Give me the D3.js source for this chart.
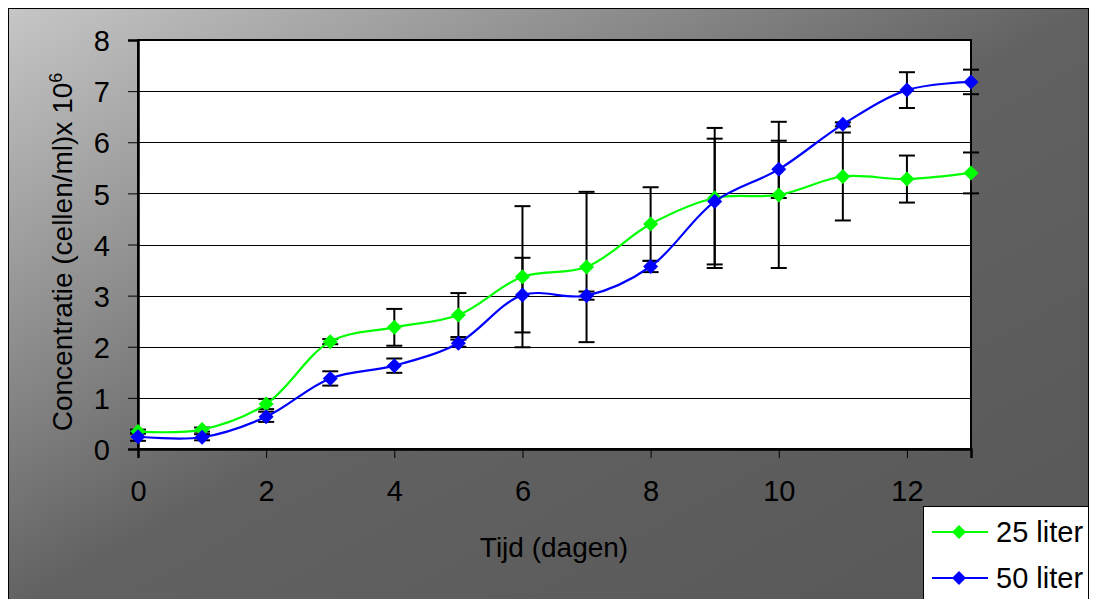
<!DOCTYPE html>
<html>
<head>
<meta charset="utf-8">
<script src="https://cdn.jsdelivr.net/npm/d3@7"></script>
<style>
  body { margin: 0; background: #fff; }
  text { font-family: "Liberation Sans", Arial, sans-serif; fill: #000; }
</style>
</head>
<body>
<script>
// days
var days = [0, 1, 2, 3, 4, 5, 6, 7, 8, 9, 10, 11, 12, 13];
// 25 liter
var liter25 = [0.34, 0.38, 0.88, 2.10, 2.38, 2.62, 3.37, 3.56, 4.40, 4.91, 4.97, 5.33, 5.28, 5.40];
var err25   = [0.04, 0.04, 0.10, 0.05, 0.36, 0.43, 1.38, 1.47, 0.72, 1.37, 1.43, 0.86, 0.46, 0.40];
// 50 liter
var liter50 = [0.24, 0.23, 0.63, 1.38, 1.63, 2.07, 3.01, 3.00, 3.57, 4.84, 5.47, 6.35, 7.02, 7.18];
var err50   = [0.08, 0.06, 0.10, 0.14, 0.14, 0.07, 0.73, 0.08, 0.11, 1.23, 0.56, 0.04, 0.35, 0.24];
var xTicks = [0, 2, 4, 6, 8, 10, 12];
var yTicks = [0, 1, 2, 3, 4, 5, 6, 7, 8];
var seriesNames = ["25 liter", "50 liter"];

var W = 1101, H = 599;
var margin = {top: 40, left: 138, right: 130, bottom: 150};
var width = W - margin.left - margin.right,   // 833
    height = H - margin.top - margin.bottom;  // 409

var svg = d3.select("body").append("svg")
    .attr("width", W)
    .attr("height", H);

// background gradient
var defs = svg.append("defs");
var grad = defs.append("linearGradient")
    .attr("id", "bg")
    .attr("x1", 0).attr("y1", 0).attr("x2", 1).attr("y2", 1);
grad.append("stop").attr("offset", "0%").attr("stop-color", "#c6c6c6");
grad.append("stop").attr("offset", "50%").attr("stop-color", "#626262");
grad.append("stop").attr("offset", "100%").attr("stop-color", "#575757");

svg.append("rect")
    .attr("x", 8.5).attr("y", 8.5)
    .attr("width", 1080).attr("height", 600)
    .attr("fill", "url(#bg)")
    .attr("stroke", "#000")
    .attr("stroke-width", 1);

var xScale = d3.scaleLinear().domain([0, 13]).range([0, width]);
var yScale = d3.scaleLinear().domain([0, 8]).range([height, 0]);

var g = svg.append("g")
    .attr("transform", "translate(" + margin.left + "," + margin.top + ")");

// plot area
g.append("rect")
    .attr("width", width).attr("height", height)
    .attr("fill", "#fff")
    .attr("stroke", "#000")
    .attr("stroke-width", 2);

// grid lines
g.selectAll(".grid")
    .data(yTicks.slice(1, -1))
    .enter().append("line")
    .attr("x1", 0).attr("x2", width)
    .attr("y1", function(d) { return Math.round(yScale(d)) + 0.5; })
    .attr("y2", function(d) { return Math.round(yScale(d)) + 0.5; })
    .attr("stroke", "#000")
    .attr("stroke-width", 1);

// axis-x
var xAxis = g.append("g")
    .attr("transform", "translate(0," + height + ")")
    .call(d3.axisBottom(xScale).tickValues(xTicks).tickSize(9).tickPadding(22).tickFormat(d3.format("d")));
xAxis.select(".domain").attr("stroke-width", 2.5);
xAxis.selectAll("text").attr("font-size", "29px").attr("fill", "#000");

// axis-y
var yAxis = g.append("g")
    .call(d3.axisLeft(yScale).tickValues(yTicks).tickSize(10).tickPadding(18).tickFormat(d3.format("d")));
yAxis.select(".domain").attr("stroke-width", 2.5);
yAxis.selectAll("text").attr("font-size", "29px").attr("fill", "#000").attr("dy", "0.37em");

// axis titles
svg.append("text")
    .attr("x", 554).attr("y", 557)
    .attr("text-anchor", "middle")
    .attr("font-size", "28px")
    .text("Tijd (dagen)");

var yt = svg.append("text")
    .attr("transform", "translate(72,252) rotate(-90)")
    .attr("text-anchor", "middle")
    .attr("font-size", "28px");
yt.append("tspan").text("Concentratie (cellen/ml)x 10");
yt.append("tspan").attr("dy", "-0.55em").attr("font-size", "18px").text("6");

var series = [
  {name: seriesNames[0], values: liter25, errs: err25, color: "#00ff00"},
  {name: seriesNames[1], values: liter50, errs: err50, color: "#0000ff"}
];

var line = d3.line()
    .x(function(d, i) { return xScale(days[i]); })
    .y(function(d) { return yScale(d); })
    .curve(d3.curveCatmullRom.alpha(0.5));

var diamond = function(cx, cy, r) {
  return "M" + cx + "," + (cy - r) + "L" + (cx + r) + "," + cy + "L" + cx + "," + (cy + r) + "L" + (cx - r) + "," + cy + "Z";
};

// error bars
series.forEach(function(s) {
  var eb = g.append("g");
  s.values.forEach(function(v, i) {
    var x = xScale(days[i]);
    var y1 = yScale(v + s.errs[i]), y2 = yScale(v - s.errs[i]);
    eb.append("line").attr("x1", x).attr("x2", x).attr("y1", y1).attr("y2", y2)
      .attr("stroke", "#000").attr("stroke-width", 2);
    [y1, y2].forEach(function(y) {
      eb.append("line").attr("x1", x - 8).attr("x2", x + 8).attr("y1", y).attr("y2", y)
        .attr("stroke", "#000").attr("stroke-width", 2);
    });
  });
});

// lines and markers
series.forEach(function(s) {
  g.append("path")
    .attr("d", line(s.values))
    .attr("fill", "none")
    .attr("stroke", s.color)
    .attr("stroke-width", 2.2);
  g.selectAll(null)
    .data(s.values)
    .enter().append("path")
    .attr("d", function(d, i) { return diamond(xScale(days[i]), yScale(d), 7.5); })
    .attr("fill", s.color);
});

// legend
var lg = svg.append("g");
lg.append("rect")
    .attr("x", 923.5).attr("y", 506.5)
    .attr("width", 165).attr("height", 100)
    .attr("fill", "#fff")
    .attr("stroke", "#000")
    .attr("stroke-width", 1);
series.forEach(function(s, i) {
  var y = 532 + i * 46;
  lg.append("line").attr("x1", 932).attr("x2", 988).attr("y1", y).attr("y2", y)
    .attr("stroke", s.color).attr("stroke-width", 2.2);
  lg.append("path").attr("d", diamond(959, y, 7)).attr("fill", s.color);
  lg.append("text").attr("x", 996).attr("y", y).attr("dy", "0.36em")
    .attr("font-size", "29px").text(s.name);
});
</script>
</body>
</html>
